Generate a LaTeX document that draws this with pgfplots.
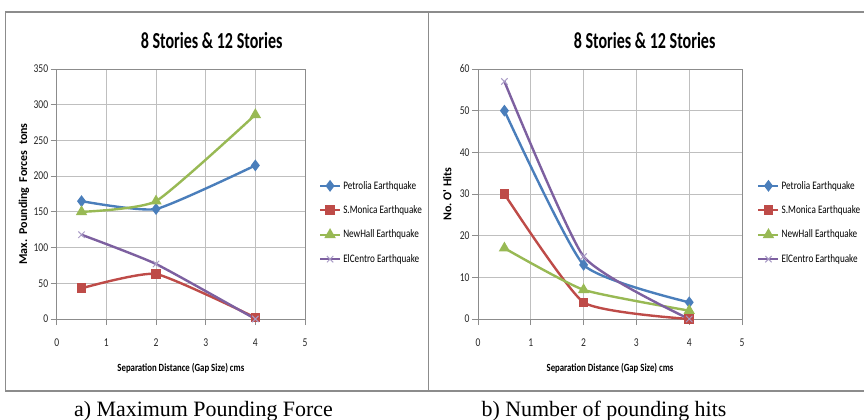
\documentclass[border=0pt]{standalone}
\usepackage{fontspec}
\setmainfont{Liberation Serif}
\newfontfamily\cf[FakeStretch=0.8]{Carlito}
\newfontfamily\tf[FakeStretch=0.7]{Carlito}
\newfontfamily\yf{Carlito}
\usepackage{pgfplots}
\pgfplotsset{compat=1.18}
\definecolor{cblue}{HTML}{4A7EBB}
\definecolor{cred}{HTML}{BE4B48}
\definecolor{cgreen}{HTML}{98B954}
\definecolor{cpurple}{HTML}{7D60A0}
\definecolor{cxmark}{HTML}{A99BC6}
\definecolor{framegray}{HTML}{8C8C8C}
\pgfplotsset{
  mystyle/.style={
    scale only axis, height=250bp,
    xmin=0, xmax=5, xtick={0,1,2,3,4,5}, ymin=0,
    grid=major,
    major grid style={draw=black!25, line width=0.8bp},
    axis line style={draw=black!45, line width=0.8bp},
    tick style={draw=black!45, line width=0.8bp},
    tick align=outside, major tick length=6bp,
    xtick pos=left, ytick pos=left,
    /pgf/number format/assume math mode=true,
    ticklabel style={font=\cf\fontsize{12}{12}\selectfont, text=black!85},
    xticklabel style={yshift=-10bp},
    yticklabel style={xshift=1bp},
    title style={anchor=center, yshift=-7bp, font=\tf\bfseries\fontsize{23}{24}\selectfont},
    xlabel style={at={(axis description cs:0.5,-0.196)}, anchor=center, font=\cf\bfseries\fontsize{11}{12}\selectfont},
    ylabel style={anchor=center, font=\yf\bfseries\fontsize{12}{12}\selectfont},
    legend style={draw=none, fill=none, anchor=west, font=\cf\fontsize{11.5}{12}\selectfont, row sep=11bp, inner sep=0pt},
    legend cell align=left,
    legend image code/.code={\draw[mark repeat=2,mark phase=2] plot coordinates {(0bp,0bp)(10bp,0bp)(20bp,0bp)};},
    every axis plot/.append style={line width=2.4bp, smooth, tension=0.3},
  },
  pet/.style={color=cblue, mark=diamond*, mark size=4bp, mark options={fill=cblue}},
  smo/.style={color=cred, mark=square*, mark size=3.6bp, mark options={fill=cred}},
  nhl/.style={color=cgreen, mark=triangle*, mark size=4.2bp, mark options={fill=cgreen}},
  elc/.style={color=cpurple, mark=x, mark size=4.5bp, mark options={draw=cxmark, line width=1bp}},
}
\begin{document}
\begin{tikzpicture}[x=1bp,y=1bp]
\useasboundingbox (0,0) rectangle (864,419);
% frame
\draw[framegray, line width=2bp] (5,407) -- (864,407);
\draw[framegray, line width=2bp] (5,28.5) -- (864,28.5);
\draw[framegray, line width=1.5bp] (5.5,407) -- (5.5,28.5);
\draw[framegray, line width=1.5bp] (428.5,407) -- (428.5,28.5);

\begin{scope}[shift={(56.7bp,100bp)}]
\begin{axis}[mystyle, at={(0pt,0pt)}, anchor=south west, width=248.3bp,
  ymax=350, ytick={0,50,100,150,200,250,300,350},
  title={8 Stories \& 12 Stories}, title style={at={(0.624,1.116)}},
  xlabel={Separation Distance (Gap Size) cms},
  ylabel={Max.\ \ Pounding\ \ Forces\ \ tons},
  ylabel style={at={(axis description cs:-0.132,0.5)}},
  legend style={at={(1.055,0.386)}}]
\addplot[pet] coordinates {(0.5,165) (2,154) (4,215)};
\addplot[smo] coordinates {(0.5,43) (2,63) (4,2)};
\addplot[nhl] coordinates {(0.5,150) (2,165) (4,286)};
\addplot[elc] coordinates {(0.5,118) (2,77) (4,0)};
\legend{Petrolia Earthquake, S.Monica Earthquake, NewHall Earthquake, ElCentro Earthquake}
\end{axis}
\end{scope}

\begin{scope}[shift={(478bp,100bp)}]
\begin{axis}[mystyle, at={(0pt,0pt)}, anchor=south west, width=264bp,
  ymax=60, ytick={0,10,20,30,40,50,60},
  title={8 Stories \& 12 Stories}, title style={at={(0.631,1.116)}},
  xlabel={Separation Distance (Gap Size) cms},
  ylabel={No.\ O'\ Hits},
  ylabel style={at={(axis description cs:-0.117,0.5)}},
  legend style={at={(1.057,0.386)}}]
\addplot[pet] coordinates {(0.5,50) (2,13) (4,4)};
\addplot[smo] coordinates {(0.5,30) (2,4) (4,0)};
\addplot[nhl] coordinates {(0.5,17) (2,7) (4,2)};
\addplot[elc] coordinates {(0.5,57) (2,15) (4,0)};
\legend{Petrolia Earthquake, S.Monica Earthquake, NewHall Earthquake, ElCentro Earthquake}
\end{axis}
\end{scope}

\node[anchor=base, font=\fontsize{22}{24}\selectfont] at (203.5,3) {a) Maximum Pounding Force};
\node[anchor=base, font=\fontsize{22}{24}\selectfont] at (604,3) {b) Number of pounding hits};
\end{tikzpicture}
\end{document}
